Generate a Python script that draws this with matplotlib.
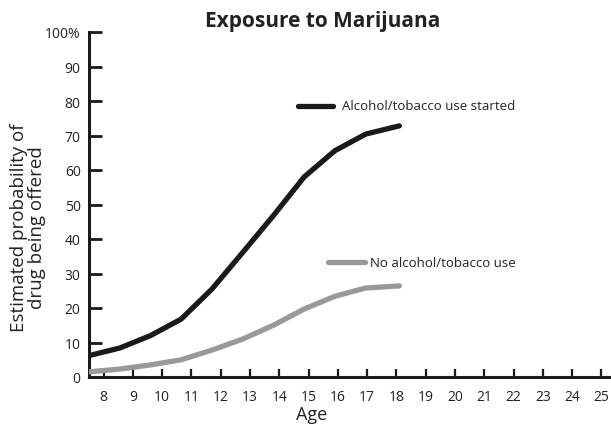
import matplotlib
matplotlib.use('Agg')
import matplotlib.pyplot as plt

matplotlib.rcParams.update({
    'font.family': ['Open Sans', 'DejaVu Sans'],
    'font.size': 9,
})

# datos
edad = [7.5, 8.55, 9.6, 10.65, 11.7, 12.75, 13.8, 14.85, 15.9, 16.95, 18.1]
con_alcohol = [6.2, 8.4, 12.0, 16.8, 25.5, 36.1, 46.8, 58.0, 65.6, 70.4, 72.8]
sin_alcohol = [1.5, 2.3, 3.5, 5.0, 7.8, 11.0, 15.0, 19.7, 23.4, 25.8, 26.4]
xticks = list(range(8, 26))
yticks = list(range(0, 101, 10))
ylabels = [str(v) for v in yticks[:-1]] + ['100%']

fig = plt.figure(figsize=(6.11, 4.27), dpi=100)
ax = fig.add_axes([89 / 611, 49 / 427, 522 / 611, 345 / 427])

negro = '#1a1a1a'
gris = '#999999'
ax.plot(edad, con_alcohol, color=negro, lw=3.8, solid_capstyle='round', zorder=3)
ax.plot(edad, sin_alcohol, color=gris, lw=3.8, solid_capstyle='round', zorder=3)

# leyendas en linea
ax.plot([14.64, 15.83], [78.6, 78.6], color=negro, lw=3.8, solid_capstyle='round')
ax.text(16.13, 78.6, 'Alcohol/tobacco use started', va='center', ha='left', fontsize=9.5, color='#222222')
ax.plot([15.66, 16.92], [33.3, 33.3], color=gris, lw=3.8, solid_capstyle='round')
ax.text(17.1, 33.3, 'No alcohol/tobacco use', va='center', ha='left', fontsize=9.5, color='#222222')

ax.set_xlim(7.5, 25.33)
ax.set_ylim(0, 100)
ax.spines['top'].set_visible(False)
ax.spines['right'].set_visible(False)
ax.spines['left'].set_linewidth(2.2)
ax.spines['bottom'].set_linewidth(2.2)
ax.spines['left'].set_color(negro)
ax.spines['bottom'].set_color(negro)

ax.set_xticks(xticks)
ax.set_xticklabels([str(v) for v in xticks])
ax.set_yticks(yticks)
ax.set_yticklabels(ylabels)
ax.tick_params(axis='y', direction='in', length=9, width=2, color=negro, pad=6, labelsize=10, labelcolor='#222222')
ax.tick_params(axis='x', direction='in', length=6, width=1.6, color=negro, pad=9, labelsize=10, labelcolor='#222222')

ax.set_xlabel('Age', fontsize=13, color='#222222')
ax.xaxis.set_label_coords(0.427, -0.082)
ax.set_ylabel('Estimated probability of\ndrug being offered', fontsize=13.5, linespacing=1.0, color='#222222')
ax.yaxis.set_label_coords(-0.082, 0.435)
ax.set_title('Exposure to Marijuana', fontsize=15, fontweight='bold', x=0.448, pad=4, color='#222222')

fig.savefig('out.png', dpi=100)
